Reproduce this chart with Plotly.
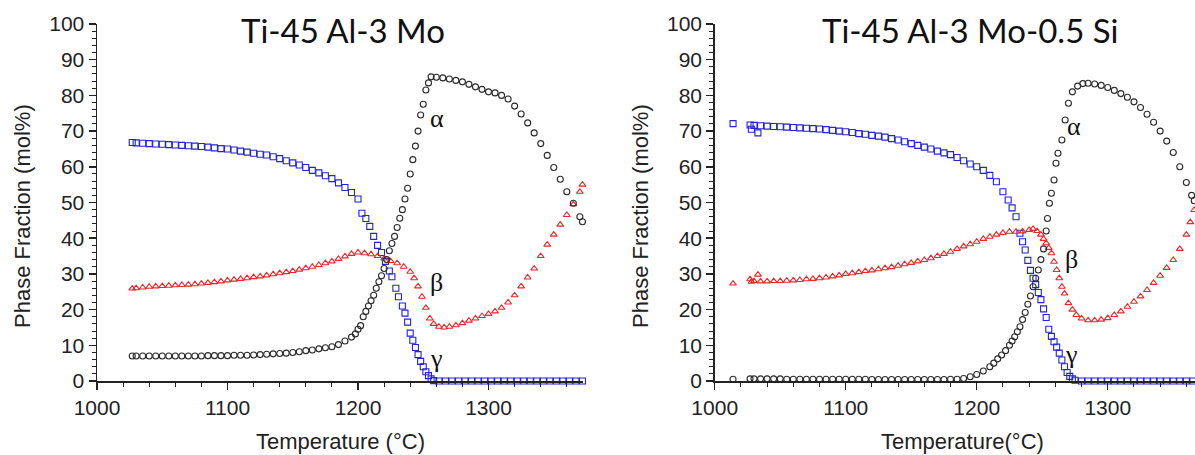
import plotly.graph_objects as go

# ---------------- data (temperature °C, phase fraction mol%) ----------------
# Left panel: Ti-45 Al-3 Mo
L_gamma = [(1027,66.8),(1030,66.7),(1035,66.6),(1040,66.5),(1045,66.4),(1050,66.3),(1055,66.2),(1060,66.1),
           (1065,66.0),(1070,65.9),(1075,65.8),(1080,65.7),(1085,65.5),(1090,65.3),(1095,65.1),(1100,65.0),
           (1105,64.7),(1110,64.4),(1115,64.1),(1120,63.8),(1125,63.5),(1130,63.3),(1135,62.8),(1140,62.3),
           (1145,61.7),(1150,61.1),(1155,60.5),(1160,59.8),(1165,59.0),(1170,58.3),(1175,57.5),(1180,56.7),
           (1185,55.5),(1190,54.2),(1195,52.8),(1200,51.0),(1203,47.0),(1206,45.5),(1209,43.3),(1212,40.5),
           (1215,38.0),(1218,36.0),(1221,33.5),(1224,30.8),(1226,29.2),(1229,26.0),(1231,23.6),(1234,21.0),
           (1236,19.0),(1238,16.5),(1240,13.4),(1242,11.4),(1244,9.4),(1246,7.4),(1248,5.5),(1250,4.0),
           (1252,2.6),(1254,1.5),(1256,0.6),(1258,0.1),(1262,0),(1267,0),(1272,0),(1277,0),(1282,0),(1287,0),
           (1292,0),(1297,0),(1302,0),(1307,0),(1312,0),(1317,0),(1322,0),(1327,0),(1332,0),(1337,0),(1342,0),
           (1347,0),(1352,0),(1357,0),(1362,0),(1367,0),(1372,0)]
L_beta = [(1027,25.9),(1030,26.0),(1035,26.2),(1040,26.4),(1045,26.5),(1050,26.6),(1055,26.7),(1060,26.8),
          (1065,26.9),(1070,27.0),(1075,27.1),(1080,27.3),(1085,27.5),(1090,27.7),(1095,27.9),(1100,28.2),
          (1105,28.4),(1110,28.6),(1115,28.8),(1120,29.1),(1125,29.3),(1130,29.6),(1135,29.9),(1140,30.2),
          (1145,30.5),(1150,30.8),(1155,31.2),(1160,31.6),(1165,32.0),(1170,32.5),(1175,33.0),(1180,33.5),
          (1185,34.2),(1190,34.9),(1195,35.6),(1200,36.0),(1205,35.8),(1210,35.5),(1215,35.0),(1220,34.3),
          (1225,33.6),(1230,33.0),(1235,32.0),(1240,30.6),(1243,28.8),(1246,26.5),(1249,23.6),(1252,20.5),
          (1255,17.5),(1258,16.0),(1262,15.2),(1266,15.0),(1270,15.2),(1275,15.6),(1280,16.2),(1285,16.9),
          (1290,17.5),(1295,18.2),(1300,18.8),(1305,19.5),(1310,20.5),(1315,22.0),(1320,24.0),(1325,26.5),
          (1330,29.0),(1335,31.5),(1340,35.0),(1345,38.2),(1350,41.0),(1355,43.8),(1360,46.5),(1365,49.5),
          (1370,53.0),(1372,55.0)]
L_alpha = [(1027,7.0),(1030,7.0),(1035,7.0),(1040,7.0),(1045,7.0),(1050,7.0),(1055,7.0),(1060,7.0),
           (1065,7.0),(1070,7.0),(1075,7.0),(1080,7.0),(1085,7.1),(1090,7.1),(1095,7.1),(1100,7.1),
           (1105,7.2),(1110,7.2),(1115,7.2),(1120,7.3),(1125,7.4),(1130,7.5),(1135,7.6),(1140,7.7),
           (1145,7.8),(1150,8.0),(1155,8.2),(1160,8.5),(1165,8.7),(1170,9.0),(1175,9.3),(1180,9.6),
           (1185,10.2),(1190,11.2),(1195,12.3),(1198,13.2),(1200,14.5),(1202,15.5),(1204,18.0),(1206,19.5),
           (1208,21.0),(1210,22.5),(1212,24.0),(1214,26.0),(1216,27.8),(1218,29.5),(1220,31.5),(1222,34.0),
           (1224,36.5),(1226,38.5),(1228,40.5),(1230,43.0),(1232,45.6),(1234,48.0),(1236,51.0),(1238,54.0),
           (1240,58.0),(1242,62.0),(1244,65.8),(1246,70.0),(1248,74.5),(1250,77.5),(1252,81.5),(1254,83.5),
           (1256,85.2),(1260,85.1),(1265,84.9),(1270,84.6),(1275,84.2),(1280,83.8),(1285,83.1),(1290,82.4),
           (1295,81.7),(1300,81.0),(1305,80.7),(1310,80.0),(1315,79.0),(1320,77.0),(1325,74.8),(1330,72.3),
           (1335,69.5),(1340,66.5),(1345,63.2),(1350,59.8),(1355,56.5),(1360,53.0),(1365,49.8),(1370,46.0),
           (1372,44.6)]

# Right panel: Ti-45 Al-3 Mo-0.5 Si
R_gamma = [(1014,72.1),(1027,71.7),(1028,70.5),(1033,69.5),(1030,71.6),(1035,71.5),(1040,71.4),(1045,71.3),
           (1050,71.2),(1055,71.1),(1060,71.0),(1065,70.9),(1070,70.8),(1075,70.7),(1080,70.6),(1085,70.4),
           (1090,70.2),(1095,70.0),(1100,69.8),(1105,69.6),(1110,69.3),(1115,69.1),(1120,68.8),(1125,68.6),
           (1130,68.3),(1135,67.9),(1140,67.5),(1145,67.0),(1150,66.5),(1155,66.0),(1160,65.5),(1165,65.0),
           (1170,64.4),(1175,63.9),(1180,63.4),(1185,62.6),(1190,61.7),(1195,60.8),(1200,60.0),(1205,59.0),
           (1210,57.6),(1215,55.8),(1220,53.0),(1224,50.7),(1227,48.5),(1230,46.0),(1233,41.4),(1235,39.0),
           (1237,36.7),(1239,33.8),(1241,31.0),(1243,28.8),(1245,27.0),(1247,24.8),(1249,22.8),(1251,20.2),
           (1253,17.8),(1255,14.5),(1257,12.5),(1259,11.0),(1261,9.5),(1263,7.8),(1265,5.9),(1267,4.0),
           (1269,2.4),(1271,1.3),(1273,0.6),(1275,0.2),(1280,0),(1285,0),(1290,0),(1295,0),(1300,0),(1305,0),
           (1310,0),(1315,0),(1320,0),(1325,0),(1330,0),(1335,0),(1340,0),(1345,0),(1350,0),(1355,0),
           (1360,0),(1365,0)]
R_beta = [(1014,27.3),(1027,28.5),(1028,27.8),(1033,29.8),(1030,28.0),(1035,27.9),(1040,27.9),(1045,28.0),
          (1050,28.0),(1055,28.1),(1060,28.2),(1065,28.3),(1070,28.5),(1075,28.6),(1080,28.8),(1085,29.0),
          (1090,29.3),(1095,29.6),(1100,30.0),(1105,30.2),(1110,30.5),(1115,30.8),(1120,31.0),(1125,31.3),
          (1130,31.6),(1135,31.9),(1140,32.3),(1145,32.7),(1150,33.1),(1155,33.5),(1160,33.9),(1165,34.4),
          (1170,35.0),(1175,35.6),(1180,36.2),(1185,37.0),(1190,37.7),(1195,38.3),(1200,39.0),(1205,39.8),
          (1210,40.4),(1215,41.0),(1220,41.5),(1225,41.8),(1230,41.8),(1235,41.9),(1240,42.3),(1243,42.6),
          (1246,42.0),(1249,41.0),(1251,39.8),(1253,38.6),(1255,37.3),(1257,35.8),(1259,33.4),(1261,31.1),
          (1263,28.8),(1265,26.4),(1267,24.5),(1270,21.8),(1273,20.0),(1276,18.5),(1280,17.5),(1285,17.0),
          (1290,17.0),(1295,17.2),(1300,17.6),(1305,18.5),(1310,19.5),(1315,20.8),(1320,22.2),(1325,23.7),
          (1330,25.5),(1335,27.5),(1340,29.5),(1345,31.7),(1350,33.9),(1355,37.0),(1360,41.0),(1363,44.5),
          (1366,47.9)]
R_alpha = [(1014,0.5),(1027,0.6),(1030,0.6),(1035,0.6),(1040,0.6),(1045,0.6),(1050,0.6),(1055,0.5),
           (1060,0.5),(1065,0.5),(1070,0.5),(1075,0.5),(1080,0.5),(1085,0.5),(1090,0.5),(1095,0.5),
           (1100,0.5),(1105,0.5),(1110,0.5),(1115,0.5),(1120,0.4),(1125,0.4),(1130,0.4),(1135,0.4),
           (1140,0.4),(1145,0.4),(1150,0.4),(1155,0.4),(1160,0.4),(1165,0.4),(1170,0.4),(1175,0.4),
           (1180,0.5),(1185,0.5),(1190,0.7),(1195,1.2),(1200,1.8),(1205,2.8),(1210,4.0),(1213,5.0),
           (1216,6.2),(1219,7.3),(1222,8.5),(1225,10.0),(1227,11.2),(1229,12.4),(1231,13.8),(1233,15.2),
           (1235,17.2),(1237,19.2),(1239,21.5),(1241,23.8),(1243,26.4),(1245,28.8),(1247,31.1),(1249,34.0),
           (1251,37.0),(1253,42.0),(1254,45.5),(1255.5,49.8),(1257,52.6),(1259,56.3),(1260.5,61.0),(1262,63.8),
           (1265,67.5),(1267.5,73.1),(1270,77.8),(1273,81.0),(1277,82.6),(1281,83.3),(1285,83.4),(1290,83.2),
           (1295,82.8),(1300,82.2),(1305,81.4),(1310,80.5),(1315,79.5),(1320,78.2),(1325,76.6),(1330,74.7),
           (1335,72.5),(1340,70.0),(1345,67.2),(1350,64.0),(1355,60.0),(1360,55.6),(1364,52.0),(1366,50.5)]

panel_titles = ["Ti-45 Al-3 Mo", "Ti-45 Al-3 Mo-0.5 Si"]
x_titles = ["Temperature (°C)", "Temperature(°C)"]
y_title = "Phase Fraction (mol%)"
# phase label positions (temperature, fraction) for each panel
L_labels = [("α", 1260.5, 73.5), ("β", 1260, 27.6), ("γ", 1260, 6.3)]
R_labels = [("α", 1274, 71.2), ("β", 1272, 33.9), ("γ", 1272, 7.3)]

# ---------------- styling / layout ----------------
W, H = 1195, 455
BLACK, BLUE, RED = "#2a2a2a", "#2323d8", "#e8282a"
AX = "#222222"

def fx(px):
    return px / W

def fy(py):
    return 1 - py / H

fig = go.Figure()

def add(series, color, symbol, xa, ya):
    fig.add_trace(go.Scatter(
        x=[p[0] for p in series], y=[p[1] for p in series], mode="markers",
        marker=dict(symbol=symbol, size=6, color=color, line=dict(width=1.1, color=color)),
        xaxis=xa, yaxis=ya, cliponaxis=False, showlegend=False, hoverinfo="skip"))

add(L_gamma, BLUE, "square-open", "x", "y")
add(L_beta, RED, "triangle-up-open", "x", "y")
add(L_alpha, BLACK, "circle-open", "x", "y")
add(R_gamma, BLUE, "square-open", "x2", "y2")
add(R_beta, RED, "triangle-up-open", "x2", "y2")
add(R_alpha, BLACK, "circle-open", "x2", "y2")

tickfont = dict(family="Liberation Sans, Arial, sans-serif", size=21, color=AX)
def axis(**kw):
    d = dict(showgrid=False, zeroline=False, showline=True, linecolor=AX, linewidth=1.5,
             ticks="outside", ticklen=7, tickwidth=1.5, tickcolor=AX, tickfont=tickfont,
             mirror=False, automargin=False, fixedrange=True)
    d.update(kw)
    return d

ydom = [fy(381), fy(24)]
minor_x = dict(dtick=20, ticks="outside", ticklen=4, tickwidth=1, tickcolor=AX)
minor_y = dict(dtick=2, ticks="outside", ticklen=4, tickwidth=1, tickcolor=AX)

fig.update_layout(
    template="none",
    width=W, height=H, autosize=False,
    margin=dict(l=0, r=0, t=0, b=0, autoexpand=False),
    paper_bgcolor="white", plot_bgcolor="white",
    xaxis=axis(domain=[fx(97), fx(583)], range=[1000, 1372.4], tick0=1000, dtick=100,
               minor=minor_x, anchor="y"),
    yaxis=axis(domain=ydom, range=[0, 100], tick0=0, dtick=10, minor=minor_y, anchor="x"),
    xaxis2=axis(domain=[fx(714.7), 1.0], range=[1000, 1366.6], tick0=1000, dtick=100,
                minor=minor_x, anchor="y2"),
    yaxis2=axis(domain=ydom, range=[0, 100], tick0=0, dtick=10, minor=minor_y, anchor="x2"),
)

ann = []
title_font = dict(family="Lato, Open Sans, sans-serif", size=33, color="#111")
label_font = dict(family="Liberation Sans, Arial, sans-serif", size=22, color=AX)
greek_font = dict(family="Liberation Serif, Times New Roman, serif", size=26, color="#111")
for t, cx in zip(panel_titles, [343, 970]):
    ann.append(dict(text=t, x=fx(cx), y=fy(30), xref="paper", yref="paper",
                    xanchor="center", yanchor="middle", showarrow=False, font=title_font))
for t, cx in zip(x_titles, [340, 962]):
    ann.append(dict(text=t, x=fx(cx), y=fy(441), xref="paper", yref="paper",
                    xanchor="center", yanchor="middle", showarrow=False, font=label_font))
for cx in [22, 640]:
    ann.append(dict(text=y_title, x=fx(cx), y=fy(216), xref="paper", yref="paper", textangle=-90,
                    xanchor="center", yanchor="middle", showarrow=False, font=label_font))
for labels, xr, yr in [(L_labels, "x", "y"), (R_labels, "x2", "y2")]:
    for t, tx, ty in labels:
        ann.append(dict(text=t, x=tx, y=ty, xref=xr, yref=yr, xanchor="center", yanchor="middle",
                        showarrow=False, font=greek_font))
fig.update_layout(annotations=ann)

fig.write_html("out.html", config={"displayModeBar": False, "staticPlot": True},
               post_script="document.body.style.margin='0';document.body.style.overflow='hidden';")
